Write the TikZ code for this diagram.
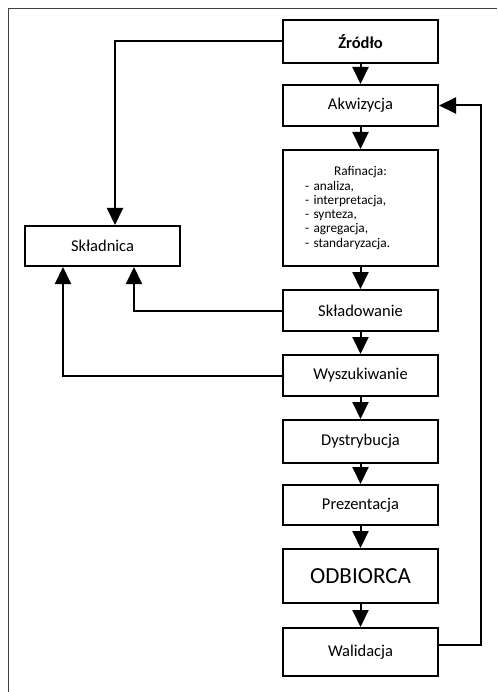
\documentclass[tikz,border=0pt]{standalone}
\usepackage{fontspec}
\setmainfont{Carlito}
\usetikzlibrary{arrows.meta}
\begin{document}
\begin{tikzpicture}[x=1pt,y=-1pt,
  box/.style={draw=black, line width=2pt, minimum width=155pt, inner sep=0pt, fill=white,
    font=\fontsize{16.5}{19}\selectfont},
  arr/.style={line width=2pt, -{Triangle[width=16pt,length=17pt]}},
  frame/.style={line width=1.3pt, draw=black!75}]
\path[use as bounding box] (0,0) rectangle (497,692);
\draw[frame] (8.5,692) -- (8.5,8.5) -- (497,8.5);

\node[box, minimum height=43pt, font=\fontsize{16.5}{19}\selectfont\bfseries] (zrodlo) at (360.5,41.5) {Źródło};
\node[box, minimum height=41pt] (akw) at (360.5,105.5) {Akwizycja};
\node[box, minimum height=116pt, text width=111pt, align=left,
  font=\fontsize{13.3}{14.3}\selectfont] (raf) at (360.5,208)
  {\makebox[111pt]{Rafinacja:}\\- analiza,\\- interpretacja,\\- synteza,\\- agregacja,\\- standaryzacja.};
\node[box, minimum height=40pt] (skladnica) at (102.5,246) {Składnica};
\node[box, minimum height=41pt] (sklad) at (360.5,310.5) {Składowanie};
\node[box, minimum height=41pt] (wysz) at (360.5,375.5) {Wyszukiwanie};
\node[box, minimum height=43pt] (dystr) at (360.5,441.5) {Dystrybucja};
\node[box, minimum height=40pt] (prez) at (360.5,505) {Prezentacja};
\node[box, minimum height=54pt, font=\fontsize{23}{26}\selectfont] (odb) at (360.5,576) {ODBIORCA};
\node[box, minimum height=48pt] (wal) at (360.5,652) {Walidacja};

\coordinate (xa) at (115,0);
\coordinate (xb) at (134,0);
\coordinate (xc) at (63,0);
\coordinate (xr) at (480.5,0);

\draw[arr] (zrodlo) -- (akw);
\draw[arr] (akw) -- (raf);
\draw[arr] (raf) -- (sklad);
\draw[arr] (sklad) -- (wysz);
\draw[arr] (wysz) -- (dystr);
\draw[arr] (dystr) -- (prez);
\draw[arr] (prez) -- (odb);
\draw[arr] (odb) -- (wal);

\draw[arr] (zrodlo.west) -| (skladnica.north -| xa);
\draw[arr] (sklad.west) -| (skladnica.south -| xb);
\draw[arr] (wysz.west) -| (skladnica.south -| xc);
\draw[arr] ([yshift=7pt]wal.east) -| (xr |- akw.east) -- (akw.east);
\end{tikzpicture}
\end{document}
